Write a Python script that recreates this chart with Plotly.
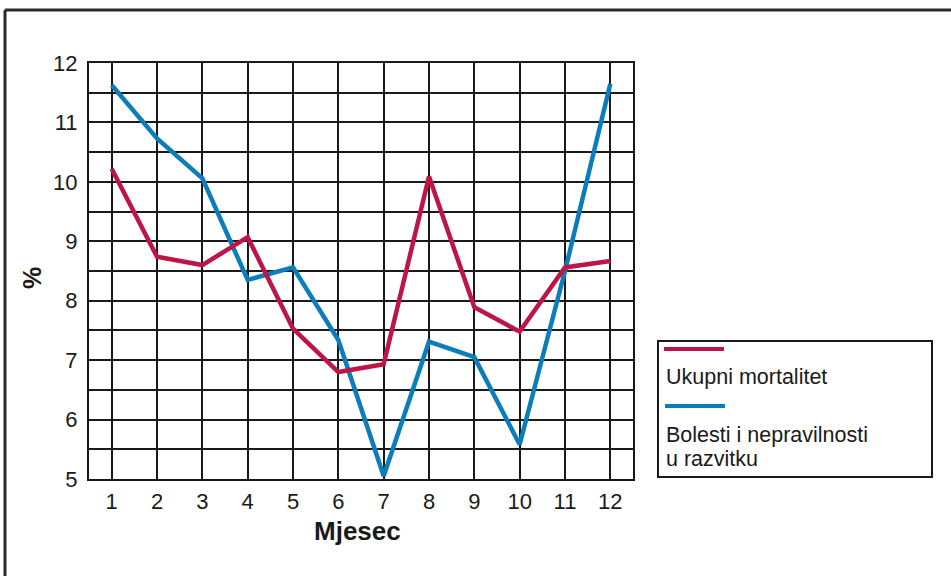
import plotly.graph_objects as go

months = list(range(1, 13))
month_labels = [str(m) for m in months]
ukupni_mortalitet = [10.22, 8.74, 8.60, 9.07, 7.53, 6.80, 6.93, 10.09, 7.89, 7.48, 8.56, 8.67]
bolesti_nepravilnosti = [11.63, 10.73, 10.06, 8.35, 8.56, 7.34, 5.05, 7.31, 7.05, 5.58, 8.50, 11.65]
y_ticks = [5, 6, 7, 8, 9, 10, 11, 12]

RED = "#BE1547"
BLUE = "#0A7DBA"
INK = "#1a1a1a"
FONT = "Liberation Sans, Arial, sans-serif"

fig = go.Figure()
fig.add_trace(go.Scatter(x=months, y=bolesti_nepravilnosti, mode="lines",
                         line=dict(color=BLUE, width=4.5), name="Bolesti i nepravilnosti u razvitku"))
fig.add_trace(go.Scatter(x=months, y=ukupni_mortalitet, mode="lines",
                         line=dict(color=RED, width=4.5), name="Ukupni mortalitet"))

L, R, T, B = 89, 633, 63, 479
W, H = 951, 576
pw, ph = R - L, B - T

def px(x):
    return (x - L) / pw

def py(y):
    return (B - y) / ph

fig.update_layout(
    width=W, height=H,
    margin=dict(l=L, r=W - R, t=T, b=H - B, pad=0),
    paper_bgcolor="white", plot_bgcolor="white",
    showlegend=False,
    font=dict(family=FONT, color=INK, size=21),
)
fig.update_xaxes(
    range=[0.5, 12.5], tickvals=months, ticktext=month_labels,
    showgrid=True, gridcolor=INK, gridwidth=1.5,
    showline=True, linecolor=INK, linewidth=2, mirror=True,
    zeroline=False, ticks="", ticklabelstandoff=2,
    tickfont=dict(size=22, family=FONT, color=INK),
)
fig.update_yaxes(
    range=[5, 12], tickvals=y_ticks,
    showgrid=True, gridcolor=INK, gridwidth=1.5,
    minor=dict(dtick=0.5, showgrid=True, gridcolor=INK, gridwidth=1.5),
    showline=True, linecolor=INK, linewidth=2, mirror=True,
    zeroline=False, ticks="", ticklabelstandoff=5,
    tickfont=dict(size=22, family=FONT, color=INK),
)

annotations = [
    dict(text="<b>Mjesec</b>", x=px(357), y=py(531), xref="paper", yref="paper",
         showarrow=False, font=dict(size=26, family=FONT, color=INK), xanchor="center", yanchor="middle"),
    dict(text="<b>%</b>", x=px(32), y=py(278), xref="paper", yref="paper", textangle=-90,
         showarrow=False, font=dict(size=25, family=FONT, color=INK), xanchor="center", yanchor="middle"),
    dict(text="Ukupni mortalitet", x=px(664), y=py(377), xref="paper", yref="paper",
         showarrow=False, font=dict(size=21.5, family=FONT, color=INK), xanchor="left", yanchor="middle"),
    dict(text="Bolesti i nepravilnosti", x=px(664), y=py(435), xref="paper", yref="paper",
         showarrow=False, font=dict(size=21.5, family=FONT, color=INK), xanchor="left", yanchor="middle"),
    dict(text="u razvitku", x=px(664), y=py(459), xref="paper", yref="paper",
         showarrow=False, font=dict(size=21.5, family=FONT, color=INK), xanchor="left", yanchor="middle"),
]
fig.update_layout(annotations=annotations)

shapes = [
    # outer frame
    dict(type="line", xref="paper", yref="paper", x0=px(5), x1=px(951), y0=py(10), y1=py(10),
         line=dict(color="#2a2a2a", width=3)),
    dict(type="line", xref="paper", yref="paper", x0=px(5), x1=px(5), y0=py(10), y1=py(576),
         line=dict(color="#2a2a2a", width=3)),
    # legend box
    dict(type="rect", xref="paper", yref="paper", x0=px(658), x1=px(932), y0=py(477), y1=py(341),
         line=dict(color=INK, width=2), fillcolor="rgba(0,0,0,0)"),
    dict(type="line", xref="paper", yref="paper", x0=px(664), x1=px(724), y0=py(349), y1=py(349),
         line=dict(color=RED, width=4)),
    dict(type="line", xref="paper", yref="paper", x0=px(665), x1=px(725), y0=py(406), y1=py(406),
         line=dict(color=BLUE, width=4)),
]
fig.update_layout(shapes=shapes)

fig.write_html("out.html", config={"displayModeBar": False},
               post_script="document.body.style.margin='0';document.body.style.overflow='hidden';")
